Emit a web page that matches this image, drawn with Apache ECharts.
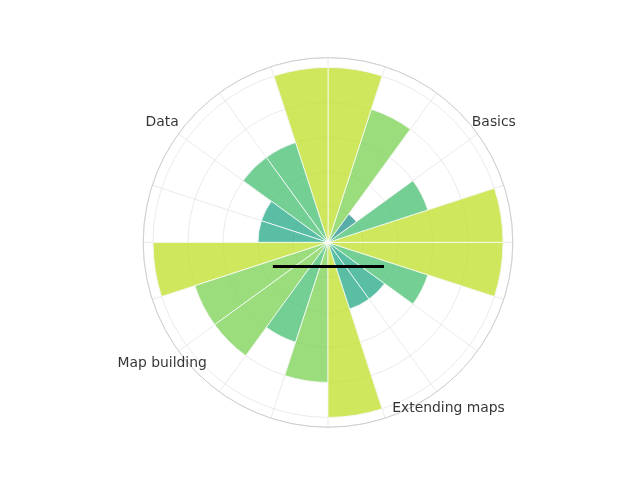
<!DOCTYPE html>
<html>
<head>
<meta charset="utf-8">
<script src="https://cdn.jsdelivr.net/npm/echarts@6/dist/echarts.min.js"></script>
<style>
html,body{margin:0;padding:0;background:#fff;}
#chart{width:640px;height:480px;}
</style>
</head>
<body>
<div id="chart"></div>
<script>
// Bars: start angle of each 18° sector (counter-clockwise from east) and its radius
const barAngles = ['0','18','36','54','72','90','108','126','144','162','180','198','216','234','252','270','288','306','324','342'];
const barValues = [10, 6, 2, 8, 10, 10, 6, 6, 4, 4, 10, 8, 8, 6, 8, 10, 4, 4, 6, 10];

// Angular tick labels (degrees) and names
const tickAngles = [36, 144, 216, 306];
const tickLabels = ['Basics', 'Data', 'Map building', 'Extending maps'];

// Black horizontal line (data units, same as radius)
const lineX = [-3.15, 3.2];
const lineY = [-1.38, -1.38];

// Radial axis settings
const rMax = 10.56;
const rStep = 2;

// colour per value (viridis)
const colourOf = {10: '#bddf26', 8: '#7ad151', 6: '#44bf70', 4: '#22a884', 2: '#21918c'};

const cx = 328, cy = 242.4, R = 184.8;
const labelR = rMax * 205 / R;

const chart = echarts.init(document.getElementById('chart'), null, {renderer: 'canvas'});

const gridColor = '#e4e4e4';

const option = {
  backgroundColor: '#ffffff',
  animation: false,
  textStyle: {fontFamily: 'DejaVu Sans'},
  polar: [
    {center: [cx, cy], radius: R},
    {center: [cx, cy], radius: R}
  ],
  angleAxis: [
    {
      polarIndex: 0,
      type: 'category',
      data: barAngles,
      startAngle: 0,
      clockwise: false,
      boundaryGap: true,
      axisLine: {show: true, lineStyle: {color: '#cfcfcf', width: 1}},
      axisTick: {show: false},
      axisLabel: {show: false},
      splitLine: {show: true, lineStyle: {color: gridColor, width: 0.8}},
      z: 1
    },
    {
      polarIndex: 1,
      type: 'value',
      min: 0, max: 360,
      startAngle: 0,
      clockwise: false,
      show: false
    }
  ],
  radiusAxis: [
    {
      polarIndex: 0,
      type: 'value',
      min: 0, max: rMax, interval: rStep,
      axisLine: {show: false},
      axisTick: {show: false},
      axisLabel: {show: false},
      splitLine: {show: true, lineStyle: {color: gridColor, width: 0.8}}
    },
    {
      polarIndex: 1,
      type: 'value',
      min: 0, max: rMax,
      show: false
    }
  ],
  grid: {left: cx - R, top: cy - R, width: 2 * R, height: 2 * R, show: false},
  xAxis: {type: 'value', min: -rMax, max: rMax, show: false},
  yAxis: {type: 'value', min: -rMax, max: rMax, show: false},
  series: [
    {
      type: 'bar',
      coordinateSystem: 'polar',
      polarIndex: 0,
      barCategoryGap: '0%',
      data: barValues.map(v => ({
        value: v,
        itemStyle: {color: colourOf[v]}
      })),
      itemStyle: {borderColor: '#ffffff', borderWidth: 1, opacity: 0.75},
      z: 2
    },
    {
      type: 'scatter',
      coordinateSystem: 'polar',
      polarIndex: 1,
      clip: false,
      symbolSize: 0,
      data: tickAngles.map((a, i) => ({value: [labelR, a], name: tickLabels[i]})),
      label: {
        show: true,
        position: 'inside',
        formatter: p => p.name,
        color: '#000000',
        fontSize: 13.9,
        fontFamily: 'DejaVu Sans',
        align: 'center',
        verticalAlign: 'middle'
      },
      z: 5
    },
    {
      type: 'line',
      xAxisIndex: 0, yAxisIndex: 0,
      data: lineX.map((x, i) => [x, lineY[i]]),
      symbol: 'none',
      lineStyle: {color: '#000000', width: 3},
      clip: false,
      z: 6
    }
  ]
};
chart.setOption(option);
</script>
</body>
</html>
